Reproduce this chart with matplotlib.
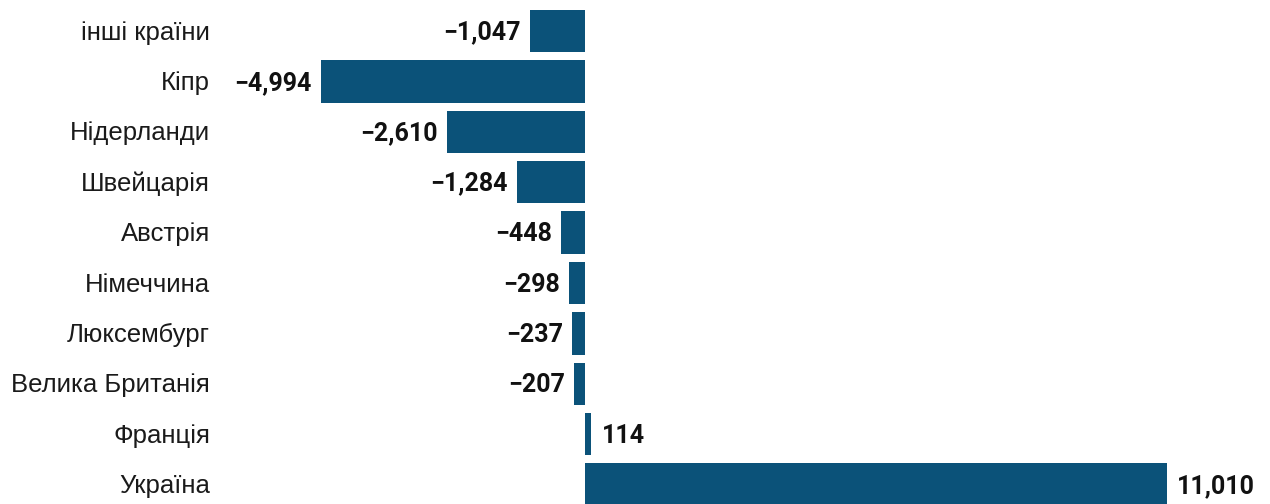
import matplotlib.pyplot as plt
import matplotlib.transforms as mtransforms

countries = ["інші країни", "Кіпр", "Нідерланди", "Швейцарія", "Австрія",
             "Німеччина", "Люксембург", "Велика Британія", "Франція", "Україна"]
values = [-1047, -4994, -2610, -1284, -448, -298, -237, -207, 114, 11010]

bar_color = "#0b5279"

fig = plt.figure(figsize=(12.7, 5.04), dpi=100)
ax = fig.add_axes([0, 0, 1, 1])

rows = list(range(len(countries)))
ax.barh(rows, values, height=0.84, color=bar_color)

ax.set_xlim(-11068, 12960)
ax.set_ylim(9.385, -0.615)
ax.axis("off")

# country names sit in a column to the left of the bars
label_tf = mtransforms.blended_transform_factory(ax.transAxes, ax.transData)
for i, (name, v) in enumerate(zip(countries, values)):
    ax.text(210 / 1270, i + 0.03, name, transform=label_tf, ha="right",
            va="center", fontsize=18.5, family="Liberation Sans",
            color="#1a1a1a")
    txt = f"{abs(v):,}"
    if v < 0:
        ax.annotate("\u2212" + txt, (v, i + 0.03), xytext=(-6.5, 0),
                    textcoords="offset points", ha="right", va="center",
                    fontsize=18, fontweight="bold", family="Roboto",
                    color="#111111")
    else:
        ax.annotate(txt, (v, i + 0.03), xytext=(7.5, 0),
                    textcoords="offset points", ha="left", va="center",
                    fontsize=18, fontweight="bold", family="Roboto",
                    color="#111111")

fig.savefig("out.png", dpi=100)
